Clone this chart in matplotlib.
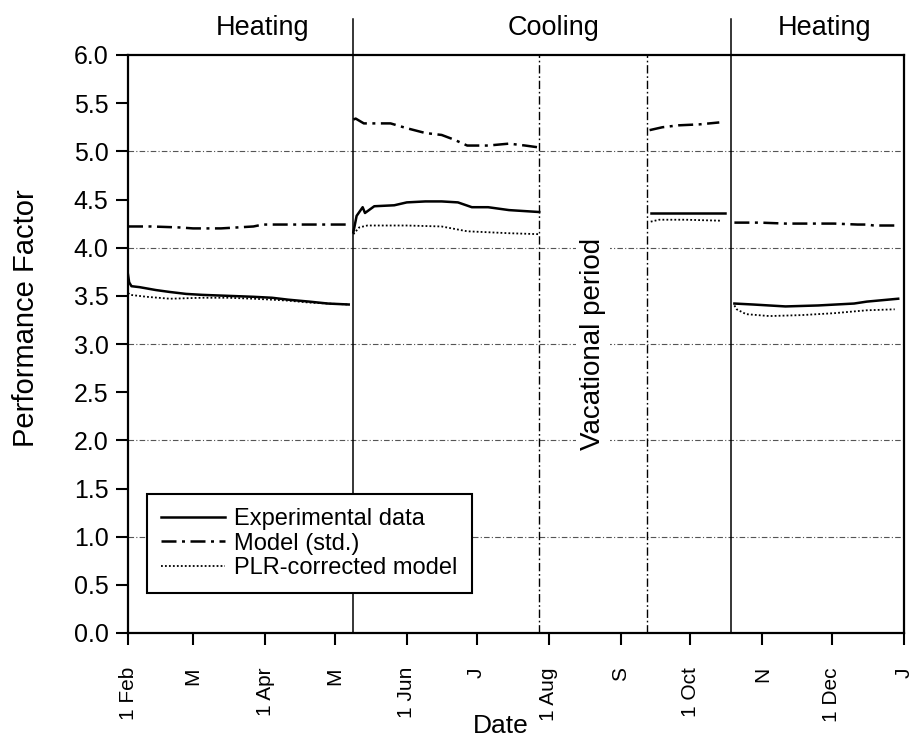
import numpy as np
import matplotlib; matplotlib.use('Agg')
import matplotlib.pyplot as plt
import matplotlib.dates as mdates
from matplotlib.ticker import FormatStrFormatter

plt.rcParams['font.family'] = ['Liberation Sans', 'DejaVu Sans']

## x values are days after 1 Feb
start = '2005-02-01'
month_starts = ['2005-02-01', '2005-03-01', '2005-04-01', '2005-05-01',
                '2005-06-01', '2005-07-01', '2005-08-01', '2005-09-01',
                '2005-10-01', '2005-11-01', '2005-12-01', '2006-01-01']
month_labels = ['1 Feb', 'M', '1 Apr', 'M', '1 Jun', 'J', '1 Aug', 'S',
                '1 Oct', 'N', '1 Dec', 'J']

# experimental data, one list pair per operating period
exp_days = [
    [0, 0.5, 1.5, 5, 12, 18, 25, 32, 43, 54, 62, 69, 78, 86, 95],
    [97, 98.4, 101, 102, 106, 114.6, 120, 128, 135, 142, 148, 155, 164, 177],
    [225, 257],
    [261, 269, 283, 297, 312.5, 318, 331.5],
]
exp_vals = [
    [3.72, 3.64, 3.60, 3.59, 3.56, 3.54, 3.52, 3.51, 3.50, 3.49, 3.48, 3.46, 3.44, 3.42, 3.41],
    [4.16, 4.33, 4.42, 4.36, 4.43, 4.44, 4.47, 4.48, 4.48, 4.47, 4.42, 4.42, 4.39, 4.37],
    [4.36, 4.36],
    [3.42, 3.41, 3.39, 3.40, 3.42, 3.44, 3.47],
]

# standard model
mod_days = [
    [0, 10, 22, 28, 40, 54, 58, 70, 85, 95],
    [97, 98, 101.5, 113, 120, 128, 135, 140.5, 146, 155, 164, 171, 177],
    [224.5, 230, 237, 246, 254.5],
    [261, 272, 283, 294, 304, 314, 318, 321, 330],
]
mod_vals = [
    [4.22, 4.22, 4.21, 4.20, 4.20, 4.22, 4.24, 4.24, 4.24, 4.24],
    [5.33, 5.34, 5.29, 5.29, 5.24, 5.19, 5.17, 5.12, 5.06, 5.06, 5.08, 5.06, 5.04],
    [5.22, 5.25, 5.27, 5.28, 5.30],
    [4.26, 4.26, 4.25, 4.25, 4.25, 4.24, 4.24, 4.23, 4.23],
]

# PLR-corrected model
plr_days = [
    [0, 1, 8, 18, 32, 43, 54, 62, 69, 78, 86, 95],
    [97, 99.5, 103, 120, 135, 146, 164, 177],
    [225, 228.6, 240, 255],
    [261, 262, 266, 276, 290, 304, 318, 330],
]
plr_vals = [
    [3.53, 3.51, 3.49, 3.47, 3.48, 3.48, 3.47, 3.46, 3.45, 3.43, 3.42, 3.41],
    [4.14, 4.21, 4.23, 4.23, 4.22, 4.17, 4.15, 4.14],
    [4.27, 4.29, 4.29, 4.28],
    [3.40, 3.36, 3.31, 3.29, 3.30, 3.32, 3.35, 3.36],
]

season_bounds = [96.9, 259.6]      # heating / cooling switch
vacation_bounds = [176.9, 223.4]
seasons = ['Heating', 'Cooling', 'Heating']
season_days = [58, 183, 300]
grid_levels = [1, 2, 3, 4, 5]

t0 = mdates.datestr2num(start)
def day(d): return t0 + np.asarray(d, dtype=float)

fig = plt.figure(figsize=(9.14, 7.49), dpi=100)
ax = fig.add_axes([128/914, 116/749, 776/914, 578/749])

for g in grid_levels:
    ax.axhline(g, color='#555555', lw=0.8, dashes=(5, 2, 1, 2), zorder=1)

styles = [
    ('Experimental data', exp_days, exp_vals, dict(lw=1.8, ls='-')),
    ('Model (std.)', mod_days, mod_vals, dict(lw=1.8, dashes=(6, 2.2, 1.2, 2.2))),
    ('PLR-corrected model', plr_days, plr_vals, dict(lw=1.3, dashes=(1, 1.2))),
]
for name, dd, vv, st in styles:
    for i in range(len(dd)):
        ax.plot(day(dd[i]), vv[i], color='black', label=name if i == 0 else None,
                zorder=4, **st)

for b in season_bounds:
    ax.axvline(day(b), ymin=0, ymax=1.062, color='black', lw=1.1, clip_on=False, zorder=2)
for b in vacation_bounds:
    ax.axvline(day(b), color='black', lw=1.0, dashes=(6, 2, 1.2, 2), zorder=2)

for s, d in zip(seasons, season_days):
    ax.text(day(d), 6.21, s, ha='center', va='baseline', fontsize=19.5)

ax.text(day(200), 3.0, 'Vacational period', rotation=90, ha='center', va='center',
        fontsize=20, zorder=3,
        bbox=dict(facecolor='white', edgecolor='none', pad=3))

ax.set_xlim(day(0), mdates.datestr2num(month_starts[-1]))
ax.set_ylim(0, 6)
ax.set_yticks(np.arange(0, 6.01, 0.5))
ax.yaxis.set_major_formatter(FormatStrFormatter('%.1f'))
ax.set_xticks([mdates.datestr2num(m) for m in month_starts])
ax.set_xticklabels(month_labels, rotation=90)

for sp in ax.spines.values():
    sp.set_linewidth(1.6)
ax.tick_params(axis='y', direction='out', length=9, width=1.5, pad=5, labelsize=18)
ax.tick_params(axis='x', direction='out', length=8.5, width=1.5, pad=16, labelsize=15)

ax.set_ylabel('Performance Factor', fontsize=21)
ax.yaxis.set_label_coords(-0.113, 0.545)
ax.set_xlabel('Date', fontsize=19)
ax.xaxis.set_label_coords(0.48, -0.14)

leg = ax.legend(loc='upper left', bbox_to_anchor=(0.0245, 0.2405), fontsize=17,
                fancybox=False, edgecolor='black', framealpha=1, borderaxespad=0,
                handlelength=2.7, handletextpad=0.4, labelspacing=0.1, borderpad=0.6)
leg.get_frame().set_linewidth(1.5)
leg.set_zorder(10)

fig.savefig('out.png', dpi=100)
